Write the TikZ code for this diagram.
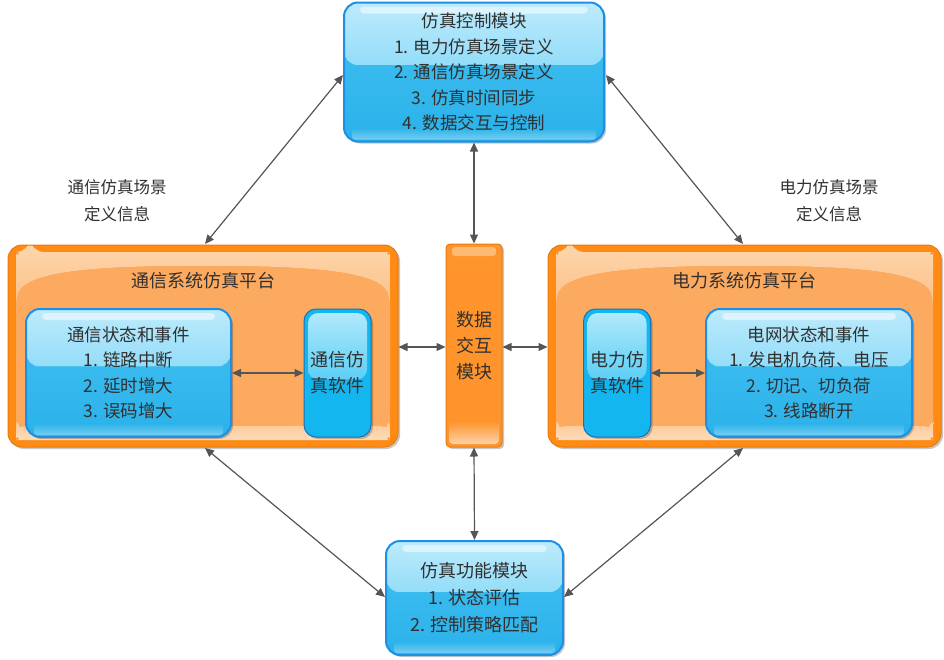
\documentclass[tikz,border=0pt]{standalone}
\usepackage{fontspec}
\setmainfont{Noto Sans CJK SC}
\usetikzlibrary{arrows.meta,calc,shadows}
\definecolor{bluebd}{HTML}{1E8FE6}
\definecolor{bluetop}{HTML}{BDEBFC}
\definecolor{bluehalf}{HTML}{62CBF4}
\definecolor{bluemid}{HTML}{38BAEE}
\definecolor{bluelow}{HTML}{2AB2EA}
\definecolor{swtop}{HTML}{B5EBFC}
\definecolor{swmid}{HTML}{14B6F0}
\definecolor{orout}{HTML}{FF8A14}
\definecolor{orin}{HTML}{FBAA60}
\definecolor{orgloss}{HTML}{FDD3A8}
\definecolor{orglossb}{HTML}{FCBE84}
\definecolor{orlight}{HTML}{FDDCBA}
\definecolor{arr}{HTML}{555555}
\definecolor{txt}{HTML}{303030}
\begin{document}
\begin{tikzpicture}[x=1pt,y=-1pt,
  every node/.style={text=txt, inner sep=0pt, align=center},
  shad/.style={drop shadow={shadow xshift=2pt, shadow yshift=-2pt, opacity=0.22, fill=black}},
  bluebox/.style={shad, draw=bluebd, line width=2pt, rounded corners=14pt, fill=bluemid,
    font=\fontsize{17.5}{25.5}\selectfont,
    path picture={
      \fill[top color=bluetop, bottom color=bluehalf]
        (path picture bounding box.north west) rectangle
        ($(path picture bounding box.north east)!0.45!(path picture bounding box.south east)$);
      \fill[top color=bluemid, bottom color=bluelow]
        ($(path picture bounding box.north west)!0.45!(path picture bounding box.south west)$) rectangle
        (path picture bounding box.south east);
      \fill[top color=bluelow, bottom color=bluelow!65!white, rounded corners=3pt]
        ($(path picture bounding box.south west)+(8pt,14pt)$) rectangle
        ($(path picture bounding box.south east)+(-8pt,2pt)$);
      \fill[white, opacity=0.5, rounded corners=4pt]
        ($(path picture bounding box.north west)+(16pt,-4pt)$) rectangle
        ($(path picture bounding box.north east)+(-16pt,-11pt)$);
    }},
  swbox/.style={shad, draw=bluebd!80!black, line width=1pt, rounded corners=12pt, fill=swmid,
    font=\fontsize{18}{26}\selectfont,
    path picture={
      \fill[top color=swtop, bottom color=swmid, rounded corners=10pt]
        ($(path picture bounding box.north west)+(4pt,-4pt)$) rectangle
        ($(path picture bounding box.north east)!0.55!(path picture bounding box.south east)+(-4pt,0)$);
    }},
  orbox/.style={shad, draw=orout!90!black, line width=1pt, rounded corners=14pt, fill=orout,
    path picture={
      \coordinate (oa) at ($(path picture bounding box.north west)+(8pt,-7pt)$);
      \coordinate (ob) at ($(path picture bounding box.north east)+(-8pt,-7pt)$);
      \coordinate (oc) at ($(path picture bounding box.south east)+(-8pt,7pt)$);
      \coordinate (od) at ($(path picture bounding box.south west)+(8pt,7pt)$);
      \fill[orin, rounded corners=14pt] (oa) rectangle (oc);
      \fill[top color=orgloss, bottom color=orglossb]
        ($(oa)+(14pt,0)$) -- ($(ob)+(-14pt,0)$) arc[start angle=90, end angle=0, radius=14pt]
        -- ($(ob)+(0,-58pt)$)
        .. controls ($(ob)+(-4pt,-20pt)$) and ($(ob)!0.2!(oa)+(0,-14pt)$) .. ($(ob)!0.5!(oa)+(0,-14pt)$)
        .. controls ($(ob)!0.8!(oa)+(0,-14pt)$) and ($(oa)+(4pt,-20pt)$) .. ($(oa)+(0,-58pt)$)
        -- ($(oa)+(0,-14pt)$) arc[start angle=180, end angle=90, radius=14pt] -- cycle;
      \fill[top color=orin!60!orlight, bottom color=orlight]
        ($(od)+(0,26pt)$)
        .. controls ($(od)+(3pt,16pt)$) and ($(od)!0.2!(oc)+(0,14pt)$) .. ($(od)!0.5!(oc)+(0,14pt)$)
        .. controls ($(od)!0.8!(oc)+(0,14pt)$) and ($(oc)+(-3pt,16pt)$) .. ($(oc)+(0,26pt)$)
        -- ($(oc)+(0,14pt)$) arc[start angle=0, end angle=-90, radius=14pt]
        -- ($(od)+(14pt,0)$) arc[start angle=270, end angle=180, radius=14pt] -- cycle;
    }},
  midbox/.style={shad, draw=orout!90!black, line width=1pt, rounded corners=4pt, fill=orout!70!orin,
    font=\fontsize{18}{26}\selectfont,
    path picture={
      \fill[white, opacity=0.35, rounded corners=3pt]
        ($(path picture bounding box.north west)+(6pt,-3pt)$) rectangle
        ($(path picture bounding box.north east)+(-6pt,-12pt)$);
      \fill[top color=orout!70!orin, bottom color=orlight!80!orin]
        ($(path picture bounding box.south west)+(3pt,26pt)$) rectangle
        ($(path picture bounding box.south east)+(-3pt,3pt)$);
    }},
  lbl/.style={font=\fontsize{16.5}{27}\selectfont},
  ttl/.style={font=\fontsize{18}{26}\selectfont},
  link/.style={draw=arr, line width=1.2pt, {Triangle[length=9pt,width=8pt]}-{Triangle[length=9pt,width=8pt]}}
]
\useasboundingbox (0,0) rectangle (944,659);

% top control module
\node[bluebox, minimum width=260pt, minimum height=139pt] (ctrl) at (474,72)
  {仿真控制模块\\1. 电力仿真场景定义\\2. 通信仿真场景定义\\3. 仿真时间同步\\4. 数据交互与控制};

% left platform
\node[orbox, minimum width=390pt, minimum height=202pt] (lplat) at (203,346) {};
\node[ttl] (ltitle) at (203,281) {通信系统仿真平台};
\node[bluebox, minimum width=205pt, minimum height=128pt] (lstate) at (128.5,373)
  {通信状态和事件\\1. 链路中断\\2. 延时增大\\3. 误码增大};
\node[swbox, minimum width=67pt, minimum height=128pt] (lsw) at (337.5,373)
  {通信仿\\真软件};

% middle data exchange
\node[midbox, minimum width=56pt, minimum height=203pt] (mid) at (474,345.5)
  {数据\\交互\\模块};

% right platform
\node[orbox, minimum width=393pt, minimum height=202pt] (rplat) at (744.5,346) {};
\node[ttl] (rtitle) at (744,281) {电力系统仿真平台};
\node[swbox, minimum width=67pt, minimum height=128pt] (rsw) at (617,373)
  {电力仿\\真软件};
\node[bluebox, minimum width=206pt, minimum height=128pt] (rstate) at (809,373)
  {电网状态和事件\\1. 发电机负荷、电压\\2. 切记、切负荷\\3. 线路断开};

% bottom function module
\node[bluebox, minimum width=177pt, minimum height=114pt, font=\fontsize{18}{27}\selectfont] (func) at (474.5,598)
  {仿真功能模块\\1. 状态评估\\2. 控制策略匹配};

% side labels
\node[lbl] (llbl) at (117,201) {通信仿真场景\\定义信息};
\node[lbl] (rlbl) at (829,201) {电力仿真场景\\定义信息};

% anchor coordinates
\coordinate (ctrlL) at (343,75);
\coordinate (ctrlR) at (606,75);
\coordinate (lplatT) at (205,244);
\coordinate (rplatT) at (743,244);
\coordinate (lplatB) at (205,448);
\coordinate (rplatB) at (743,448);
\coordinate (funcL) at (385,597);
\coordinate (funcR) at (564,597);

% connectors
\draw[link] (ctrlL) -- (lplatT);
\draw[link] (ctrlR) -- (rplatT);
\draw[link] (ctrl.south) -- (mid.north);
\draw[link] (mid.south) -- (func.north);
\draw[link] (lplat.east |- 0,347) -- (mid.west |- 0,347);
\draw[link] (mid.east |- 0,347) -- (rplat.west |- 0,347);
\draw[link] (lplatB) -- (funcL);
\draw[link] (rplatB) -- (funcR);
\draw[link] (lstate.east) -- (lsw.west);
\draw[link] (rsw.east) -- (rstate.west);
\end{tikzpicture}
\end{document}
